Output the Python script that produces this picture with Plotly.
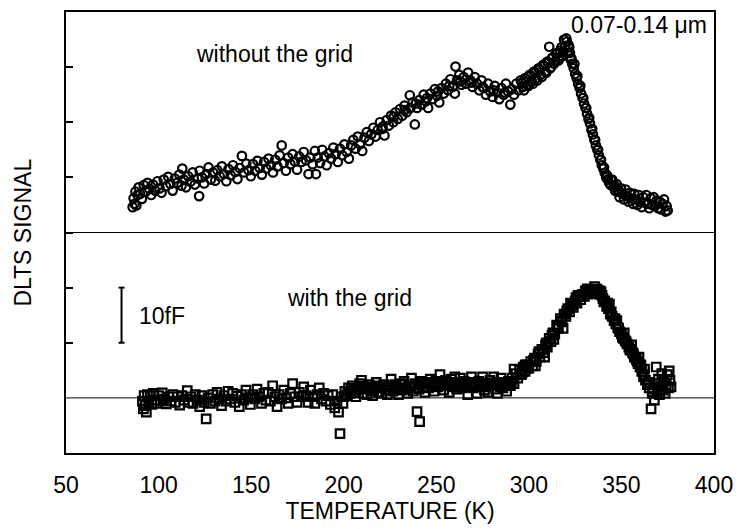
import plotly.graph_objects as go

# ---------------- data ----------------
# Upper trace: "without the grid" (open circles). Values in fF, plotted with a +30 fF offset.
T_without = [86.0, 86.5, 87.0, 87.5, 88.0, 88.6, 89.2, 90.0, 91.0, 92.0, 93.0, 94.0, 95.0, 96.0, 97.0, 98.2,
             99.4, 100.5, 101.6, 102.8, 104.0, 105.2, 106.4, 107.6, 108.8, 110.0, 111.2, 112.4, 112.8, 113.6,
             114.8, 116.0, 117.2, 118.4, 119.6, 121.9, 121.0, 122.2, 123.4, 124.6, 125.8, 127.0, 128.2, 129.4,
             130.6, 131.8, 133.0, 134.2, 135.4, 136.6, 137.8, 139.0, 140.2, 141.4, 142.6, 143.8, 145.0, 146.2,
             147.4, 148.6, 149.8, 151.0, 152.2, 153.4, 154.6, 155.8, 157.0, 158.2, 159.4, 160.6, 161.8, 163.0,
             164.2, 165.4, 166.5, 167.6, 168.8, 170.0, 171.2, 172.4, 173.6, 174.8, 176.0, 177.2, 178.4, 179.6,
             181.0, 182.0, 183.2, 184.4, 185.0, 186.0, 187.2, 188.4, 189.6, 190.8, 192.0, 193.2, 194.4, 195.6,
             196.8, 198.0, 199.2, 200.4, 201.6, 202.8, 204.0, 205.2, 206.4, 207.6, 208.8, 210.0, 211.2, 212.4,
             213.6, 214.8, 216.0, 217.2, 218.4, 219.6, 220.8, 222.0, 223.2, 224.4, 225.6, 226.8, 228.0, 229.2,
             230.4, 231.6, 232.8, 234.0, 235.7, 236.0, 237.2, 238.4, 239.6, 240.8, 242.0, 243.2, 244.4, 245.6,
             246.8, 248.0, 249.2, 250.4, 251.6, 252.8, 254.0, 255.2, 256.4, 257.6, 258.8, 260.0, 260.4, 261.2,
             262.4, 263.6, 264.8, 266.0, 267.2, 268.4, 269.6, 270.8, 272.0, 273.2, 274.4, 275.6, 276.8, 278.0,
             279.2, 280.4, 281.6, 282.8, 284.0, 285.2, 286.4, 287.6, 288.8, 290.0, 290.8, 292.0, 293.2, 294.4,
             295.6, 296.8, 298.0, 299.2, 300.4, 301.6, 302.8, 304.0, 305.2, 306.4, 307.6, 308.8, 310.0, 311.0,
             311.6, 312.4, 313.6, 314.8, 316.0, 317.0, 318.0, 319.0, 319.6, 320.2, 321.0, 321.8, 322.6, 323.4,
             324.2, 325.0, 325.8, 326.6, 327.4, 328.2, 329.0, 329.8, 330.6, 331.4, 332.2, 333.0, 333.8, 334.6,
             335.4, 336.2, 337.0, 337.8, 338.6, 339.4, 340.2, 341.0, 341.8, 342.6, 343.4, 344.2, 345.0, 345.8,
             346.6, 347.4, 348.2, 349.0, 349.8, 350.6, 351.4, 352.2, 353.0, 353.8, 354.6, 355.4, 356.2, 357.0,
             357.8, 358.6, 359.4, 360.2, 361.0, 361.8, 362.6, 363.4, 364.2, 365.0, 365.8, 366.6, 367.4, 368.2,
             369.0, 369.8, 370.6, 371.4, 372.2, 373.0, 373.8, 374.4, 375.0,
             296.2, 297.4, 298.6, 299.8, 301.0, 302.2, 303.4, 304.6, 305.8, 307.0, 308.2, 309.4, 310.6, 312.0,
             313.0, 314.2, 315.4, 316.6, 317.6, 318.6, 320.6, 321.4, 322.2, 323.0, 324.6, 326.2, 327.8, 329.4,
             331.0, 332.6, 334.2, 335.8, 337.4, 339.0, 340.6, 342.2, 344.6, 346.2, 348.6, 350.2,
             221.0, 227.0, 233.0, 239.0, 245.0, 251.0, 257.0, 263.0, 269.0, 275.0, 281.0, 287.0]
S_without = [4.6, 6.2, 5.2, 7.4, 4.9, 6.8, 8.2, 7.0, 6.1, 8.6, 7.4, 9.0, 7.9, 6.8, 8.7, 7.6,
             9.3, 8.0, 7.2, 9.6, 8.4, 10.1, 8.8, 7.6, 9.8, 9.0, 10.5, 8.5, 11.6, 9.6,
             8.2, 10.2, 9.2, 10.9, 8.7, 6.6, 9.8, 11.2, 10.0, 8.9, 10.6, 11.8, 9.6, 10.9,
             9.4, 11.3, 10.2, 12.0, 10.6, 9.3, 11.5, 10.4, 12.2, 11.0, 9.7, 11.7, 13.9, 10.9,
             12.5, 11.3, 10.2, 12.4, 11.2, 13.0, 11.7, 10.5, 12.8, 11.6, 13.4, 12.2, 10.9, 13.2,
             12.0, 14.0, 15.8, 12.6, 11.2, 13.6, 12.4, 14.2, 12.9, 11.4, 13.8, 12.8, 14.6, 13.1,
             10.6, 13.6, 12.4, 14.8, 10.6, 13.6, 12.6, 15.0, 13.8, 12.2, 14.4, 13.4, 15.4, 14.2,
             12.8, 15.2, 14.0, 16.0, 14.6, 13.4, 15.8, 16.8, 15.2, 17.4, 16.0, 14.8, 17.2, 18.2,
             16.6, 17.8, 19.0, 17.4, 18.6, 20.0, 18.8, 17.6, 20.4, 19.4, 21.2, 20.0, 21.8, 20.6,
             22.4, 21.2, 23.0, 21.8, 24.9, 22.6, 23.6, 19.6, 22.6, 24.0, 23.2, 25.0, 23.8, 22.6,
             25.2, 24.2, 26.0, 24.8, 23.6, 26.2, 25.2, 27.0, 25.8, 27.8, 26.4, 25.2, 30.1, 27.6,
             28.6, 26.8, 28.2, 27.0, 29.0, 27.6, 26.4, 28.2, 27.0, 25.8, 27.6, 26.2, 25.0, 27.0,
             25.6, 24.6, 26.6, 25.4, 24.2, 26.2, 25.0, 27.0, 25.6, 23.2, 26.0, 25.0, 27.0, 25.8,
             27.6, 26.4, 28.0, 26.8, 28.6, 27.4, 29.2, 28.0, 29.8, 28.6, 30.4, 29.2, 31.0, 33.7,
             29.8, 31.6, 30.6, 32.4, 31.2, 33.0, 32.0, 35.0, 33.8, 35.2, 32.6, 33.6, 31.4, 30.6,
             29.8, 28.8, 28.0, 27.0, 26.2, 25.2, 24.4, 23.4, 22.6, 21.6, 20.6, 19.8, 18.6, 17.8,
             16.8, 15.8, 15.0, 14.0, 13.2, 12.2, 11.6, 10.8, 10.0, 9.6, 9.0, 8.6, 9.6, 8.2,
             7.6, 8.8, 7.4, 6.4, 8.0, 7.0, 6.0, 7.8, 6.6, 5.6, 7.2, 6.2, 5.2, 7.0,
             6.0, 5.0, 6.8, 5.6, 4.6, 6.4, 5.4, 6.8, 5.2, 4.4, 6.2, 5.0, 6.4, 4.8,
             5.8, 4.4, 5.6, 4.2, 5.2, 6.0, 3.8, 4.8, 4.0,
             27.2, 25.8, 27.8, 26.6, 28.4, 27.0, 29.0, 27.6, 29.6, 28.2, 30.2, 29.0, 30.8, 30.0,
             31.8, 31.0, 32.6, 31.6, 33.6, 32.8, 34.6, 34.0, 32.6, 31.6, 30.6, 28.4, 26.6, 24.4,
             22.6, 20.8, 18.8, 16.8, 15.0, 13.2, 11.8, 10.4, 9.4, 8.6, 7.6, 7.2,
             19.2, 21.0, 22.2, 23.4, 24.4, 25.6, 26.6, 27.4, 27.2, 26.4, 25.8, 25.4]
OFFSET_WITHOUT = 30.0

# Lower trace: "with the grid" (open squares), in fF.
T_with = [91.3, 91.8, 92.2, 92.8, 93.4, 94.0, 94.8, 95.6, 96.4, 97.2, 98.0, 99.0, 100.0, 101.0, 102.0, 103.0,
          104.2, 105.4, 106.6, 107.8, 109.0, 110.2, 111.4, 112.6, 113.8, 115.5, 116.2, 117.4, 118.6, 119.8,
          121.0, 122.2, 123.4, 125.7, 124.6, 126.8, 128.0, 129.2, 130.4, 131.6, 132.8, 134.0, 135.2, 136.4,
          137.6, 138.8, 140.0, 141.2, 142.4, 143.6, 144.8, 146.0, 147.2, 148.4, 149.6, 150.8, 152.0, 153.2,
          154.4, 155.6, 156.8, 158.0, 159.2, 160.4, 161.6, 162.8, 164.0, 165.2, 166.4, 167.6, 168.8, 170.0,
          171.2, 172.4, 173.6, 174.8, 176.0, 177.2, 178.4, 179.6, 180.8, 182.0, 183.2, 184.4, 185.6, 186.8,
          188.0, 189.2, 190.4, 191.6, 192.8, 194.0, 195.2, 196.4, 197.2, 198.0, 198.8, 199.6, 200.6, 201.6,
          202.6, 203.6, 204.6, 205.6, 206.6, 207.6, 208.6, 209.6, 210.6, 211.6, 212.6, 213.6, 214.6, 215.6,
          216.6, 217.6, 218.6, 219.6, 220.6, 221.6, 222.6, 223.6, 224.6, 225.6, 226.6, 227.6, 228.6, 229.6,
          230.6, 231.6, 232.6, 233.6, 234.6, 235.6, 236.6, 237.6, 238.6, 239.6, 240.6, 241.0, 241.8, 242.8,
          243.8, 244.8, 245.8, 246.8, 247.8, 248.8, 249.8, 250.8, 252.0, 253.0, 254.0, 255.0, 256.0, 257.0,
          258.0, 259.0, 260.0, 261.0, 262.0, 263.0, 264.0, 265.0, 266.0, 267.0, 268.0, 269.0, 270.0, 271.0,
          272.0, 273.0, 274.0, 275.0, 276.0, 277.0, 278.0, 279.0, 280.0, 281.0, 282.0, 283.0, 284.0, 285.0,
          286.0, 287.0, 288.0, 289.0, 290.0, 291.0, 292.0, 293.0, 294.0, 295.0, 296.0, 297.0, 298.0, 299.0,
          300.0, 301.0, 302.0, 303.0, 303.5, 304.0, 305.0, 306.0, 307.0, 308.0, 308.5, 309.0, 310.0, 311.0,
          312.0, 313.0, 313.5, 314.0, 315.0, 316.0, 317.0, 318.0, 318.5, 319.0, 320.0, 321.0, 322.0, 322.5,
          323.0, 324.0, 325.0, 326.0, 326.5, 327.0, 328.0, 329.0, 330.0, 331.0, 331.5, 332.0, 333.0, 334.0,
          335.0, 335.5, 336.0, 337.0, 338.0, 339.0, 339.5, 340.0, 341.0, 342.0, 343.0, 343.5, 344.0, 345.0,
          346.0, 347.0, 347.5, 348.0, 349.0, 350.0, 351.0, 351.5, 352.0, 353.0, 354.0, 355.0, 355.5, 356.0,
          357.0, 358.0, 359.0, 359.5, 360.0, 361.0, 362.0, 362.5, 363.0, 364.0, 365.0, 366.0, 366.6, 367.2,
          367.8, 368.4, 368.8, 369.4, 370.0, 370.6, 371.2, 371.8, 372.4, 373.0, 373.6, 374.2, 374.8, 375.4,
          375.8, 376.2, 376.8, 292.0, 298.0,
          200.2, 202.2, 204.2, 206.2, 208.2, 210.2, 212.2, 214.2, 216.2, 218.2, 220.2, 222.2, 224.2, 226.2,
          228.2, 230.2, 232.2, 234.2, 236.2, 238.2, 240.2, 242.2, 244.2, 246.2, 248.2, 250.2, 252.6, 254.6,
          256.6, 258.6, 260.6, 262.6, 264.6, 266.6, 268.6, 270.6, 272.6, 274.6, 276.6, 278.6, 280.6, 282.6,
          284.6, 286.6, 288.6, 290.6,
          296.5, 299.5, 302.5, 305.5, 309.5, 312.5, 315.5, 317.5, 320.5, 323.5, 325.5, 328.5, 330.5, 333.5,
          336.5, 338.5, 340.5, 342.5, 344.5, 346.5, 348.5, 350.5, 352.5, 354.5, 356.5, 358.5, 360.5, 362.0,
          364.5]
S_with = [-0.6, -2.0, 0.4, -1.4, -2.6, 0.6, -0.8, 0.4, -1.2, 0.8, -0.4, -1.0, 0.4, -0.6, 0.9, -0.2,
          -1.1, 0.2, -0.6, 0.6, -0.8, 0.2, -1.3, 0.4, -0.4, 1.3, -0.8, 0.2, -1.0, 0.6,
          -0.4, -1.6, 0.4, -3.8, -0.8, 0.0, -1.0, 0.6, -0.6, 1.0, -0.2, -1.4, 0.4, -0.6,
          1.2, -0.2, 0.8, -0.8, 0.3, -1.6, 0.6, -0.4, 1.4, 0.0, -1.2, 0.6, -0.2, 1.6,
          0.2, -1.0, 0.8, -0.4, 1.0, -0.6, 2.2, 0.2, -1.6, 0.6, -0.2, 1.4, 0.0, -1.0,
          0.8, 2.6, 0.2, -0.8, 1.0, 0.2, 2.0, 0.4, -0.8, 1.4, 0.2, -1.0, 0.6, 1.8,
          -0.2, 0.8, -0.6, 0.4, -1.2, 0.6, -1.8, -0.6, -2.6, -6.5, 0.2, -1.0, 1.2, 0.4,
          1.8, 0.8, 2.2, 1.0, 0.2, 1.6, 2.6, 3.2, 0.8, 1.8, 0.6, 2.4, 1.2, 0.4,
          1.8, 2.8, 1.0, 2.0, 0.8, 2.4, 1.4, 0.6, 2.0, 3.4, 1.2, 2.4, 1.6, 0.6,
          2.6, 1.4, 3.0, 1.8, 0.8, 2.2, 3.6, 1.2, 2.6, -2.5, 1.6, -4.3, 3.0, 2.0,
          1.0, 2.8, 1.8, 3.4, 2.2, 1.2, 3.0, 2.0, 4.2, 2.6, 1.4, 3.2, 2.2, 1.0,
          3.4, 2.4, 3.8, 1.6, 2.8, 3.6, 1.8, 3.0, 2.0, 0.6, 2.8, 3.8, 1.8, 2.6,
          0.8, 3.0, 2.0, 3.8, 1.4, 2.4, 1.0, 3.2, 2.2, 3.8, 1.6, 0.8, 2.6, 3.6,
          1.8, 2.8, 1.2, 3.0, 2.2, 3.6, 2.6, 4.4, 3.6, 5.0, 4.2, 5.6, 4.8, 6.0,
          5.4, 6.6, 5.8, 7.2, 5.8, 6.6, 8.0, 7.4, 8.8, 8.2, 7.4, 9.6, 9.2, 10.8,
          10.2, 11.8, 10.6, 11.6, 13.2, 12.6, 14.4, 13.8, 12.6, 15.2, 14.8, 16.2, 15.6, 17.2,
          17.0, 16.4, 17.6, 17.2, 18.6, 18.4, 17.8, 18.8, 18.4, 19.2, 19.8, 18.8, 19.6, 19.0,
          19.6, 20.2, 19.2, 19.6, 18.8, 19.2, 18.6, 18.0, 17.6, 16.6, 16.2, 17.0, 15.2, 14.8,
          14.0, 13.4, 14.0, 12.8, 12.0, 11.6, 10.8, 11.8, 10.4, 9.8, 9.2, 8.6, 9.6, 8.2,
          7.4, 7.0, 6.2, 7.4, 5.6, 4.8, 4.2, 5.2, 3.2, 2.4, 1.8, -2.0, 0.8, 1.6,
          -0.4, 2.6, 5.6, 1.2, 3.4, 0.6, 2.2, 4.4, 1.4, 3.0, 0.8, 2.4, 4.2, 1.8,
          4.9, 3.2, 2.0, 5.2, 6.0,
          0.2, 1.2, 1.6, 1.4, 2.0, 2.2, 1.6, 2.0, 1.4, 2.2, 1.8, 2.0, 1.4, 2.2,
          2.0, 1.8, 2.4, 1.6, 2.2, 1.8, 2.4, 2.6, 2.0, 2.6, 2.8, 2.4, 2.8, 2.2,
          2.8, 2.0, 2.6, 2.2, 2.6, 2.4, 2.0, 2.8, 2.2, 2.6, 2.0, 2.6, 2.4, 2.8,
          2.0, 2.4, 2.6, 3.0,
          4.6, 5.4, 6.8, 8.4, 10.0, 11.4, 12.8, 14.0, 15.8, 16.8, 18.2, 18.4, 19.4, 19.2,
          19.8, 19.4, 17.4, 17.2, 15.6, 14.4, 12.6, 11.0, 10.2, 8.8, 8.0, 6.6, 6.0, 3.8,
          2.8]

X_TICKS = [50, 100, 150, 200, 250, 300, 350, 400]
Y_TICKS = [10, 20, 30, 40, 50, 60]
ZERO_LINES = [0, 30]          # baselines of the two traces (fF)
SCALE_BAR = (10, 20)          # 10 fF scale bar
SCALE_BAR_T = 80

FONT = "Liberation Sans, Arial, Helvetica, sans-serif"

fig = go.Figure()
fig.add_trace(go.Scatter(
    x=T_without, y=[v + OFFSET_WITHOUT for v in S_without], mode="markers",
    marker=dict(symbol="circle-open", size=8.5, color="black", line=dict(width=2.2)),
    showlegend=False, name="without the grid"))
fig.add_trace(go.Scatter(
    x=T_with, y=S_with, mode="markers",
    marker=dict(symbol="square-open", size=8.5, color="black", line=dict(width=2.2)),
    showlegend=False, name="with the grid"))

for z in ZERO_LINES:
    fig.add_shape(type="line", xref="paper", x0=0, x1=1, yref="y", y0=z, y1=z,
                  line=dict(color="black", width=1), layer="below")

# scale bar
fig.add_shape(type="line", xref="x", yref="y", x0=SCALE_BAR_T, x1=SCALE_BAR_T,
              y0=SCALE_BAR[0], y1=SCALE_BAR[1], line=dict(color="black", width=2))
for yb in SCALE_BAR:
    fig.add_shape(type="line", xref="x", yref="y", x0=SCALE_BAR_T - 1.6, x1=SCALE_BAR_T + 1.6,
                  y0=yb, y1=yb, line=dict(color="black", width=2))

ann_font = dict(family=FONT, size=23, color="black")
fig.add_annotation(x=162.5, y=62.3, text="without the grid", showarrow=False, font=ann_font)
fig.add_annotation(x=203, y=18.2, text="with the grid", showarrow=False, font=ann_font)
fig.add_annotation(x=88.6, y=14.8, text="10fF", showarrow=False, font=ann_font, xanchor="left")
fig.add_annotation(xref="paper", x=0.992, y=67.7, text="0.07-0.14 μm", showarrow=False,
                   font=ann_font, xanchor="right")
fig.add_annotation(xref="paper", yref="paper", x=-0.09, y=0.499, text="DLTS SIGNAL",
                   showarrow=False, font=ann_font, textangle=-90)

fig.update_xaxes(range=[50, 400], tickvals=X_TICKS, ticks="", showgrid=False, zeroline=False,
                 showline=True, linecolor="black", linewidth=2, mirror=True,
                 ticklabelstandoff=10,
                 tickfont=dict(family=FONT, size=23, color="black"),
                 title=dict(text="TEMPERATURE (K)", font=dict(family=FONT, size=23, color="black"),
                            standoff=2))
fig.update_yaxes(range=[-10, 70], tickvals=Y_TICKS, ticks="inside", ticklen=7, tickwidth=1.5,
                 tickcolor="black", showticklabels=False, showgrid=False, zeroline=False,
                 showline=True, linecolor="black", linewidth=2, mirror=True)

fig.update_layout(width=743, height=529, margin=dict(l=66, r=25, t=10, b=76),
                  plot_bgcolor="white", paper_bgcolor="white")

fig.write_html("out.html")
